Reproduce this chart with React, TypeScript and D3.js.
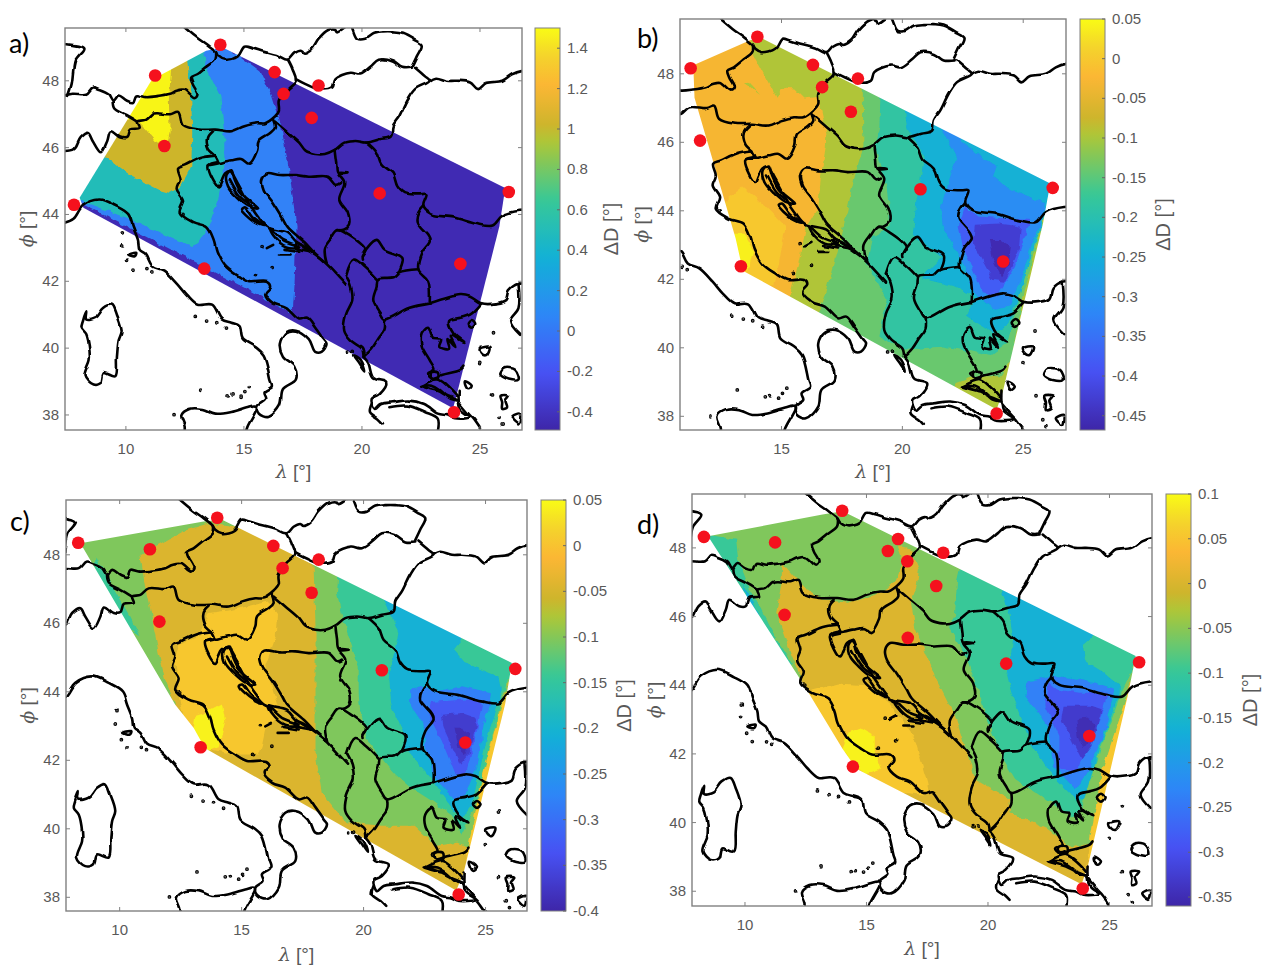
import React from "react";
import * as d3 from "d3";

type Pt = [number, number];

// colour table (fraction of the bar -> colour)
const barStops = [0, 0.143, 0.286, 0.429, 0.571, 0.714, 0.76, 0.857, 0.93, 1];
const barColors = ["#3e26a8", "#4752f4", "#2d87f7", "#12b1d6", "#37c897", "#abc739", "#ceb52c", "#fbb634", "#f4d32c", "#f9fb15"];
const parula = d3.scaleLinear<string>().domain(barStops).range(barColors);

// ---- map outlines, lon/lat ----
const borderNorthAlps: Pt[] = [[7.4, 47.55], [7.78, 47.61], [8.32, 47.61], [8.6, 47.8], [8.87, 47.75], [9.28, 47.61], [9.48, 47.41], [9.69, 47.56], [10.03, 47.41], [10.3, 47.36], [10.44, 47.56], [10.85, 47.51], [11.33, 47.54], [11.87, 47.61], [12.15, 47.7], [12.49, 47.73], [12.9, 47.51], [13.03, 47.61], [12.83, 47.9], [12.76, 48.09], [13.03, 48.19], [13.38, 48.39], [13.79, 48.63], [13.82, 48.85]];
const borderCzechSlovak: Pt[] = [[12.4, 49.65], [12.97, 49.31], [13.44, 49.07], [13.79, 48.87], [13.92, 48.73], [14.2, 48.63], [14.74, 48.73], [15.02, 49.02], [15.36, 48.97], [15.84, 48.87], [16.38, 48.77], [16.86, 48.63], [17.13, 48.82], [17.41, 48.9], [17.54, 48.84], [17.88, 48.97], [18.16, 49.26], [18.57, 49.52], [18.91, 49.55], [18.98, 49.48], [19.39, 49.65], [19.52, 49.65], [19.8, 49.26], [20.14, 49.26], [20.48, 49.41], [20.89, 49.45], [21.3, 49.45], [21.71, 49.41], [22.25, 49.21], [22.53, 49.07], [22.32, 48.73], [22.12, 48.43]];
const borderHungaryNorth: Pt[] = [[22.12, 48.39], [21.71, 48.39], [21.3, 48.58], [20.75, 48.63], [20.41, 48.43], [19.93, 48.19], [19.52, 48.24], [18.84, 48.05], [18.7, 47.8], [18.16, 47.75], [17.61, 47.9], [17.2, 48.05]];
const borderAustriaSouth: Pt[] = [[16.86, 48.63], [17.06, 48.34], [17.2, 48.0], [16.86, 47.75], [16.52, 47.41], [16.52, 47.12], [16.31, 46.93], [15.9, 46.73], [15.56, 46.73], [15.02, 46.64], [14.47, 46.49], [13.79, 46.54], [13.1, 46.54], [12.42, 46.68], [12.21, 47.07], [11.87, 47.0], [11.19, 47.02], [10.85, 46.83], [10.51, 46.78], [10.58, 46.59], [10.17, 46.54], [10.03, 46.3], [9.76, 46.3], [9.35, 46.49], [9.21, 46.2], [8.94, 45.86], [8.59, 46.2], [8.39, 46.44], [8.05, 46.3], [7.78, 45.96], [7.4, 45.9]];
const borderSwissAustria: Pt[] = [[9.48, 47.41], [9.55, 47.17], [10.03, 46.98], [10.51, 46.78]];
const borderRhine: Pt[] = [[7.3, 49.1], [8.2, 48.97], [7.85, 48.6], [7.7, 47.9], [7.55, 47.55]];
const borderSloveniaWest: Pt[] = [[13.65, 46.49], [13.44, 46.3], [13.51, 45.96], [13.79, 45.76], [13.92, 45.57]];
const borderSloveniaCroatia: Pt[] = [[13.51, 45.47], [13.85, 45.52], [14.47, 45.62], [14.88, 45.66], [15.22, 45.52], [15.56, 45.91], [15.63, 46.2], [16.11, 46.44], [16.31, 46.59], [16.24, 46.83]];
const borderHungarySouth: Pt[] = [[16.31, 46.78], [16.79, 46.49], [17.34, 46.15], [17.61, 45.91], [18.02, 45.81], [18.43, 45.81], [18.84, 45.93], [19.25, 46.15], [19.73, 46.2], [20.21, 46.15], [20.75, 46.25], [21.23, 46.34], [21.3, 46.64], [21.57, 46.93], [21.91, 47.41], [22.25, 47.75], [22.87, 48.0], [22.66, 48.14], [22.25, 48.39]];
const borderRomaniaNorth: Pt[] = [[22.87, 48.0], [23.14, 48.09], [23.62, 48.0], [24.03, 48.0], [24.58, 47.95], [24.92, 47.75], [25.26, 47.93], [25.94, 48.0], [26.35, 48.19], [26.76, 48.29], [27.2, 48.3]];
const borderSerbiaWest: Pt[] = [[18.84, 45.93], [18.91, 45.52], [18.98, 45.23], [19.39, 45.23], [18.98, 45.23], [19.25, 44.94], [19.04, 44.45], [19.39, 44.06], [19.45, 43.67], [19.25, 43.55], [18.98, 43.53]];
const borderBosniaNorth: Pt[] = [[19.11, 44.94], [18.91, 44.89], [18.57, 45.13], [17.75, 45.13], [17.2, 45.18], [16.52, 45.18], [15.97, 45.23], [15.77, 45.03], [15.84, 44.74], [16.24, 44.35], [16.66, 43.87], [16.86, 43.62], [17.61, 43.14], [18.0, 42.85], [18.5, 42.55]];
const borderRomaniaWest: Pt[] = [[20.21, 46.15], [20.62, 45.86], [20.82, 45.52], [21.3, 45.23], [21.5, 44.84], [21.78, 44.64], [22.39, 44.6], [22.73, 44.6], [22.6, 44.25], [22.94, 44.01], [23.89, 43.91], [24.85, 43.72], [25.53, 43.67], [25.94, 43.96], [26.69, 44.11], [27.2, 44.1]];
const borderBulgariaWest: Pt[] = [[22.6, 44.25], [22.39, 44.06], [22.32, 43.77], [22.46, 43.62], [22.8, 43.34], [22.87, 43.19], [22.53, 42.85], [22.39, 42.36], [22.8, 42.02], [22.87, 41.34]];
const borderBulgariaSouth: Pt[] = [[22.87, 41.34], [24.17, 41.59], [24.58, 41.54], [25.06, 41.34], [25.67, 41.34], [26.08, 41.44], [26.22, 41.73], [26.63, 41.93], [27.2, 41.9]];
const borderMacedonia: Pt[] = [[22.39, 42.36], [21.57, 42.27], [21.3, 42.12], [20.68, 42.07], [20.62, 41.83], [20.48, 41.44], [20.75, 41.05], [20.96, 40.86], [21.98, 41.2], [22.87, 41.34]];
const borderKosovo: Pt[] = [[20.0, 42.65], [20.0, 42.75], [20.62, 43.24], [20.96, 42.95], [21.71, 42.7], [21.57, 42.27]];
const borderAlbaniaNorth: Pt[] = [[19.32, 42.17], [19.66, 42.65], [20.14, 42.41], [20.62, 42.07]];
const borderAlbaniaWest: Pt[] = [[19.32, 42.17], [19.52, 41.88], [19.59, 41.44], [19.32, 41.0], [19.25, 40.52], [19.52, 40.23], [20.0, 39.98], [20.07, 39.74]];
const borderAlbaniaSouth: Pt[] = [[20.07, 39.74], [20.41, 39.98], [20.68, 40.27], [20.96, 40.57], [20.96, 40.86]];
const borderMontenegro: Pt[] = [[18.5, 42.56], [18.43, 42.99], [18.7, 43.29], [18.98, 43.53], [19.45, 43.38], [20.14, 42.95], [20.0, 42.75]];
const coastDalmatia: Pt[] = [[13.92, 45.57], [13.51, 45.47], [13.65, 45.08], [13.92, 44.84], [14.06, 45.03], [14.2, 45.23], [14.4, 45.3], [14.74, 44.93], [15.15, 44.4], [15.56, 43.96], [15.97, 43.62], [16.86, 43.45], [17.2, 43.2], [17.61, 43.0], [18.22, 42.7], [18.7, 42.38], [19.0, 42.15], [19.32, 41.9]];
const coastItaly: Pt[] = [[13.79, 45.76], [13.17, 45.69], [12.49, 45.47], [12.17, 45.37], [12.28, 45.03], [12.15, 44.74], [12.42, 44.4], [12.28, 44.06], [12.83, 43.77], [13.44, 43.62], [13.72, 43.24], [13.85, 42.9], [14.2, 42.46], [14.74, 42.17], [15.22, 41.98], [15.97, 41.98], [16.11, 41.83], [15.9, 41.63], [16.25, 41.34], [16.79, 41.2], [17.34, 40.86], [17.68, 40.91], [18.02, 40.61], [18.36, 40.27], [18.5, 40.13], [18.29, 39.89], [18.02, 39.89], [17.75, 40.27], [17.2, 40.52], [16.79, 40.47], [16.52, 40.13], [16.65, 39.74], [17.13, 39.45], [17.2, 39.06], [16.65, 38.77], [16.52, 38.28], [16.04, 37.94], [15.63, 38.04], [15.56, 38.28], [15.9, 38.48], [15.83, 38.67], [16.18, 38.86], [16.11, 39.06], [15.84, 39.79], [15.49, 40.03], [14.95, 40.27], [14.81, 40.66], [14.47, 40.76], [14.06, 40.86], [13.65, 41.3], [13.03, 41.3], [12.56, 41.59], [12.15, 41.93], [11.6, 42.32], [11.12, 42.46], [10.85, 42.8], [10.58, 42.95], [10.51, 43.24], [10.3, 43.63], [10.1, 44.01], [9.55, 44.26], [8.87, 44.45], [8.18, 44.26], [7.78, 43.87], [7.4, 43.75]];
const coastSicily: Pt[] = [[12.45, 37.3], [12.49, 37.65], [12.35, 37.99], [12.69, 38.18], [13.24, 38.18], [13.79, 38.04], [14.47, 38.09], [15.15, 38.23], [15.49, 38.28], [15.56, 38.23], [15.15, 37.65], [15.0, 37.3]];
const coastTurkey: Pt[] = [[26.63, 41.93], [26.63, 41.2], [26.28, 40.81], [26.7, 40.4]];
const coastGreeceWest: Pt[] = [[20.07, 39.74], [20.27, 39.55], [20.48, 39.11], [21.03, 38.96], [20.75, 38.62], [20.41, 38.48], [20.55, 38.18], [20.82, 38.33], [21.3, 38.38], [21.98, 38.43], [22.6, 38.33], [23.21, 38.04], [23.62, 37.99], [23.89, 37.9], [24.58, 37.94], [24.17, 38.18], [24.1, 38.72]];
const coastPeloponnese: Pt[] = [[21.16, 38.23], [21.91, 38.28], [22.66, 38.09], [23.21, 37.89], [23.21, 37.5]];
const coastThermaic: Pt[] = [[24.3, 39.45], [24.17, 39.35], [23.42, 39.2], [23.0, 39.11], [22.8, 39.25], [23.07, 39.35], [22.87, 39.64], [22.53, 40.08], [22.53, 40.42], [22.8, 40.61], [23.0, 40.32], [23.35, 40.27], [23.28, 40.03], [23.69, 39.98], [23.62, 40.27], [23.96, 40.03], [23.76, 40.37], [24.3, 40.18], [23.89, 40.42], [23.69, 40.81], [24.17, 40.91], [24.58, 41.0], [25.06, 41.34]];
const coastEuboeaInner: Pt[] = [[22.53, 38.88], [23.21, 39.06], [23.62, 38.87], [24.03, 38.57]];
const coastAttica: Pt[] = [[24.1, 38.38], [24.51, 38.04], [24.71, 37.89], [25.0, 37.6]];
const innerDalmatia: Pt[] = [[14.4, 45.03], [14.81, 44.55], [15.15, 44.35]];
const innerDalmatiaSouth: Pt[] = [[15.97, 42.99], [16.24, 43.09]];
const innerDalmatiaFar: Pt[] = [[16.52, 42.8], [16.93, 42.8]];
const innerDalmatiaMid: Pt[] = [[16.72, 42.97], [17.34, 42.9]];
const kythiraLine: Pt[] = [[20.41, 38.33], [20.34, 38.09], [20.69, 37.89], [20.89, 37.75]];
const openLines = [borderNorthAlps, borderCzechSlovak, borderHungaryNorth, borderAustriaSouth, borderSwissAustria, borderRhine, borderSloveniaWest, borderSloveniaCroatia, borderHungarySouth, borderRomaniaNorth, borderSerbiaWest, borderBosniaNorth, borderRomaniaWest, borderBulgariaWest, borderBulgariaSouth, borderMacedonia, borderKosovo, borderAlbaniaNorth, borderAlbaniaWest, borderAlbaniaSouth, borderMontenegro, coastDalmatia, coastItaly, coastSicily, coastTurkey, coastGreeceWest, coastPeloponnese, coastThermaic, coastEuboeaInner, coastAttica, innerDalmatia, innerDalmatiaSouth, innerDalmatiaFar, innerDalmatiaMid, kythiraLine];

const sardinia: Pt[] = [[8.32, 41.1], [8.18, 40.81], [8.12, 40.61], [8.32, 40.42], [8.46, 39.93], [8.46, 39.64], [8.25, 39.16], [8.59, 38.91], [8.94, 38.96], [9.07, 39.25], [9.55, 39.16], [9.62, 39.74], [9.69, 40.22], [9.82, 40.52], [9.62, 41.0], [9.41, 41.3], [9.07, 41.2], [8.73, 40.91], [8.32, 40.86]];
const krk: Pt[] = [[14.26, 45.18], [14.47, 45.32], [14.6, 45.03], [14.88, 44.64], [15.43, 44.3], [15.56, 44.21], [15.15, 44.27], [14.67, 44.55], [14.33, 44.84]];
const pag: Pt[] = [[14.88, 44.16], [15.43, 43.77], [15.84, 43.65], [15.36, 43.91], [15.02, 44.21]];
const brac: Pt[] = [[16.11, 43.58], [16.65, 43.24], [17.34, 43.04], [16.79, 43.04], [16.24, 43.38]];
const korcula: Pt[] = [[17.2, 43.14], [17.61, 43.04], [17.88, 42.9], [17.47, 42.95], [17.2, 43.0]];
const thasos: Pt[] = [[24.65, 40.84], [24.8, 40.73], [24.65, 40.61], [24.48, 40.73]];
const euboea: Pt[] = [[22.46, 38.87], [23.0, 38.87], [23.35, 38.72], [23.76, 38.48], [24.1, 38.43], [23.62, 38.57], [23.21, 38.72]];
const lemnos: Pt[] = [[24.99, 39.98], [25.4, 40.03], [25.26, 39.79], [25.06, 39.84]];
const skyros: Pt[] = [[24.37, 39.01], [24.65, 38.87], [24.51, 38.77], [24.37, 38.91]];
const chios: Pt[] = [[25.87, 38.57], [26.22, 38.57], [26.08, 38.43], [26.15, 38.23], [25.94, 38.18], [25.94, 38.38]];
const lesbos: Pt[] = [[25.87, 39.25], [26.08, 39.4], [26.49, 39.35], [26.63, 39.06], [26.22, 39.06], [25.87, 39.2]];
const samos: Pt[] = [[26.35, 37.94], [26.69, 38.04], [26.63, 37.75]];
const corfu: Pt[] = [[19.66, 39.79], [19.95, 39.65], [20.14, 39.3], [19.9, 39.55]];
const elba: Pt[] = [[10.1, 42.8], [10.44, 42.85], [10.37, 42.75]];
const ambracia: Pt[] = [[22.95, 39.3], [23.25, 39.3], [23.25, 39.1], [22.95, 39.12]];
const closedLines = [sardinia, krk, pag, brac, korcula, thasos, euboea, lemnos, skyros, chios, lesbos, samos, corfu, elba, ambracia];

const smallIslands: Pt[] = [[9.82, 43.06], [9.89, 43.45], [10.07, 42.63], [10.3, 42.36], [10.89, 42.38], [11.1, 42.28], [12.94, 40.95], [13.42, 40.81], [13.85, 40.76], [14.26, 40.6], [13.17, 38.74], [14.33, 38.57], [14.54, 38.6], [14.88, 38.53], [15.22, 38.82], [15.04, 38.67], [12.04, 38.01], [12.42, 44.0], [15.49, 42.17], [16.24, 42.41], [15.77, 43.04], [19.39, 39.88], [19.59, 39.9], [25.53, 40.49], [24.99, 39.54], [25.53, 38.6], [25.81, 37.9], [25.94, 37.7]];

// ---- stations ----
const stationsCommon: Pt[] = [[14.0, 49.08], [16.3, 48.26], [16.68, 47.61], [18.16, 47.86], [17.87, 46.89], [20.75, 44.63], [26.22, 44.67], [24.17, 42.52], [23.9, 38.08]];
const stationsA: Pt[] = [...stationsCommon, [7.8, 44.29], [11.24, 48.16], [11.63, 46.05], [13.32, 42.38]];
const stationsB: Pt[] = [...stationsCommon, [11.24, 48.16], [11.63, 46.05], [13.32, 42.38]];
const stationsC: Pt[] = [...stationsCommon, [8.3, 48.35], [11.24, 48.16], [11.63, 46.05], [13.32, 42.38]];
const stationsD: Pt[] = [...stationsCommon, [8.31, 48.32], [11.24, 48.16], [11.63, 46.05], [15.88, 47.91], [16.7, 45.38], [14.44, 41.63]];

// ---- contour hulls and bands ----
const hullA: Pt[] = [[8.04, 44.5], [11.1, 48.03], [13.4, 48.9], [14.1, 49.0], [26.07, 44.79], [25.82, 43.64], [24.03, 38.65], [23.86, 38.2], [8.2, 44.2]];
const hullB: Pt[] = [[11.35, 48.25], [13.7, 48.98], [14.2, 49.03], [26.12, 44.8], [25.82, 43.64], [24.16, 38.73], [23.9, 38.2], [13.4, 42.25], [13.1, 43.2], [11.4, 47.3]];
const hullC: Pt[] = [[8.39, 48.34], [13.44, 48.97], [14.2, 49.02], [26.08, 44.84], [25.8, 43.63], [24.1, 38.72], [23.8, 38.2], [13.5, 42.35], [13.03, 42.95], [12.28, 43.62]];
const hullD: Pt[] = [[8.48, 48.34], [13.19, 48.97], [14.02, 49.07], [26.08, 44.85], [25.75, 43.69], [24.1, 38.7], [23.85, 38.2], [14.6, 41.56], [14.02, 42.14], [12.36, 44.08]];

type Band = { v: number; pts: Pt[] };

const bandsA: Band[] = [
  { v: 0.05, pts: [[13.32, 48.93], [14.17, 48.98], [14.85, 48.73], [15.7, 48.28], [16.2, 47.53], [16.55, 46.73], [16.89, 45.44], [17.23, 43.64], [17.14, 41.84], [17.06, 41.04], [13.32, 42.44], [8.13, 44.32], [7.5, 45], [10, 49.5]] },
  { v: 0.5, pts: [[13.32, 48.88], [13.4, 48.38], [14.0, 47.53], [14.17, 46.43], [14.17, 45.44], [13.91, 44.44], [13.49, 43.64], [13.06, 43.14], [12.81, 43.06], [11.96, 43.29], [10.26, 43.84], [8.38, 44.34], [7.5, 44.6], [8, 47], [12, 49.3], [13.3, 49.3]] },
  { v: 1.02, pts: [[12.6, 48.58], [12.77, 47.43], [12.81, 46.43], [12.77, 45.44], [12.55, 45.14], [12.3, 44.84], [11.87, 44.64], [11.36, 44.74], [10.26, 45.14], [9.15, 45.73], [8, 46], [10, 49], [12.6, 49]] },
  { v: 1.48, pts: [[11.92, 48.38], [11.82, 47.43], [11.85, 46.43], [11.7, 45.98], [11.28, 46.18], [10.51, 46.83], [10.09, 46.83], [9, 47.5], [10, 49], [11.92, 49]] },
];

const bandsB: Band[] = [
  { v: -0.095, pts: [[13.7, 48.98], [13.87, 48.5], [14.78, 47.33], [15.1, 47.6], [15.53, 47.57], [15.95, 47.28], [16.53, 47.33], [16.86, 46.26], [16.83, 45.87], [16.61, 44.9], [16.53, 44.12], [16.03, 43.54], [15.7, 42.47], [15.37, 41.6], [15, 41], [24, 37.5], [30, 41], [30, 50], [13.7, 50]] },
  { v: -0.095, pts: [[13.46, 47.72], [13.7, 47.7], [14.12, 47.38]] },
  { v: -0.14, pts: [[18.35, 48.2], [18.39, 45.87], [17.99, 44.9], [17.52, 43.35], [16.86, 41.6], [16.53, 41.0], [22, 38.7], [22.25, 38.97], [23.0, 39.17], [24.08, 39.17], [24.49, 39.65], [25.07, 41.69], [25.99, 44.12], [26.32, 45.0], [26.5, 46], [18.35, 50]] },
  { v: -0.185, pts: [[19.1, 47.52], [19.05, 46.45], [18.85, 45.87], [19.35, 44.71], [19.51, 43.54], [18.77, 43.25], [18.52, 42.47], [19.35, 41.4], [19.05, 40.33], [20.18, 39.94], [21.67, 40.04], [23.66, 39.8], [24.33, 40.14], [24.91, 41.69], [25.49, 43.15], [25.99, 44.12], [26.19, 44.85], [26.4, 45.8], [19.1, 50]] },
  { v: -0.245, pts: [[20.09, 46.99], [20.21, 46.36], [20.92, 45.58], [20.59, 44.32], [20.43, 43.3], [21.67, 42.66], [20.76, 42.03], [22.17, 41.79], [23.0, 41.5], [22.67, 40.92], [23.75, 40.43], [24.33, 40.62], [24.91, 41.69], [25.41, 42.86], [25.9, 43.93], [26.15, 44.7], [26.3, 45.5], [20.09, 48]] },
  { v: -0.31, pts: [[21.5, 46.55], [22.25, 45.58], [21.6, 44.12], [21.67, 43.54], [22.5, 42.47], [23.0, 41.6], [23.83, 41.11], [24.41, 41.2], [24.99, 42.18], [25.41, 43.15], [25.82, 43.83], [25.9, 44.22], [24.49, 44.61], [23.75, 45.0], [23.9, 45.3], [22.5, 45.97], [21.9, 47]] },
  { v: -0.38, pts: [[22.58, 44.12], [22.33, 43.54], [22.5, 42.96], [23.33, 41.6], [23.91, 41.5], [24.66, 42.37], [25.16, 43.44], [25.32, 43.73], [23.16, 43.83]] },
  { v: -0.427, pts: [[23.0, 43.59], [22.92, 43.05], [23.75, 41.98], [24.25, 41.93], [24.82, 42.86], [24.9, 43.54], [24.0, 43.63]] },
  { v: -0.458, pts: [[23.58, 43.15], [23.75, 42.57], [24.08, 42.08], [24.41, 42.47], [24.49, 42.96], [24.08, 43.15]] },
  { v: 0.0, pts: [[12.71, 44.32], [13.37, 44.71], [14.37, 44.12], [15.17, 43.54], [14.9, 42.5], [14.7, 41.8], [13, 41.8], [12, 44]] },
  { v: 0.04, pts: [[13.0, 43.3], [13.5, 43.3], [13.87, 42.85], [13.7, 42.37], [13.4, 42.2], [12.9, 42.3]] },
];

const bandsC: Band[] = [
  { v: -0.103, pts: [[8, 49], [14, 49.5], [18, 48.5], [17.95, 47.67], [17.4, 47.95], [16.52, 48.34], [15.02, 48.77], [13.65, 48.92], [12.56, 48.68], [10.85, 48.0], [11.05, 47.02], [11.26, 46.39], [11.6, 45.13], [11.87, 44.35], [12.28, 43.62], [11, 44], [8, 47]] },
  { v: -0.143, pts: [[9.0, 47.95], [9.55, 47.27], [10.44, 46.2], [10.85, 45.62], [9, 46.5]] },
  { v: -0.103, pts: [[17.95, 47.67], [18.03, 45.92], [18.03, 44.75], [18.03, 42.23], [18.28, 41.06], [19.27, 40.19], [20.75, 40.09], [22.06, 40.09], [22.97, 39.5], [23.87, 39.6], [24.29, 39.46], [24.86, 41.45], [25.68, 43.69], [26.1, 44.56], [26.5, 45.5], [18, 48.5]] },
  { v: -0.143, pts: [[18.98, 47.56], [18.91, 46.88], [19.18, 46.05], [19.8, 44.74], [19.8, 43.96], [19.86, 43.43], [20.14, 42.75], [20.07, 42.65], [20.68, 42.12], [20.89, 41.93], [21.3, 41.59], [21.84, 41.25], [22.8, 40.81], [23.62, 40.37], [24.03, 39.84], [24.37, 40.32], [24.58, 40.71], [25.26, 42.65], [25.6, 43.63], [26.08, 44.74], [26.5, 45.5], [19, 49]] },
  { v: -0.206, pts: [[20.68, 46.83], [21.09, 46.3], [21.43, 45.71], [21.16, 44.84], [21.02, 44.35], [21.09, 43.63], [21.71, 42.7], [21.57, 42.27], [21.84, 42.27], [22.87, 41.39], [23.62, 40.61], [24.03, 40.27], [24.44, 40.71], [25.06, 42.65], [25.53, 43.63], [25.67, 43.87], [25.53, 44.45], [24.17, 44.84], [23.69, 45.23], [24.03, 45.52], [24, 46.5], [21, 47.5]] },
  { v: -0.28, pts: [[21.91, 44.06], [22.32, 44.16], [22.94, 44.01], [24.03, 44.16], [25.26, 43.96], [25.19, 43.63], [24.92, 43.04], [24.64, 41.88], [24.17, 41.0], [23.76, 40.81], [22.87, 41.54], [22.8, 41.97], [22.53, 42.36], [22.46, 43.04], [21.91, 43.62]] },
  { v: -0.328, pts: [[22.75, 43.7], [22.66, 43.33], [23.21, 42.56], [23.76, 41.59], [24.17, 41.54], [24.64, 42.85], [24.85, 43.63], [24.6, 43.8]] },
  { v: -0.368, pts: [[23.21, 43.33], [23.28, 42.95], [23.96, 41.88], [24.3, 42.17], [24.64, 43.04], [24.58, 43.24], [24.03, 43.38]] },
  { v: -0.39, pts: [[23.73, 42.95], [23.89, 42.36], [24.17, 42.17], [24.37, 42.75], [24.03, 42.95]] },
  { v: 0.005, pts: [[13.65, 46.3], [14.6, 46.39], [16.11, 46.64], [16.45, 46.3], [16.4, 45.6], [15.97, 44.75], [16.47, 43.59], [16.52, 43.29], [15.97, 42.9], [15.83, 42.41], [15.7, 42.17], [14.74, 42.17], [13.79, 42.31], [12.9, 42.6], [12.5, 43.6], [12.4, 44.0], [12.35, 44.5], [12.25, 45.0], [12.45, 45.35], [13.3, 45.65], [13.5, 46.0]] },
  { v: 0.043, pts: [[13.1, 43.29], [13.51, 43.38], [14.2, 43.63], [14.33, 43.14], [14.06, 42.41], [13.65, 42.31], [13.3, 42.41], [13.03, 42.9]] },
  { v: 0.005, pts: [[24.1, 38.72], [24.29, 39.46], [24.86, 41.45], [25.68, 43.69], [25.85, 43.69], [24.3, 38.6]] },
];

const bandsD: Band[] = [
  { v: -0.056, pts: [[8, 49], [18, 49.3], [18, 48], [16.83, 47.95], [16.25, 48.05], [16.5, 47.56], [16.17, 46.98], [15.34, 46.6], [14.18, 46.4], [13.19, 46.5], [12.36, 46.89], [11.54, 47.56], [11.5, 46.98], [11.29, 46.11], [11.87, 44.95], [12.36, 44.17], [11, 44], [8, 47]] },
  { v: -0.098, pts: [[8.4, 48.4], [9.64, 48.24], [9.72, 47.66], [10.21, 46.79], [10.9, 45.9], [11.3, 45.3], [12, 44.6], [9, 46]] },
  { v: -0.162, pts: [[9.9, 47.0], [10.6, 46.0], [10.2, 46.0]] },
  { v: -0.056, pts: [[16.83, 47.95], [17.16, 47.37], [17.07, 46.89], [16.83, 46.4], [17, 45.72], [17.82, 44.27], [18.64, 43.11], [19.31, 41.65], [19.47, 41.27], [20.96, 40.64], [20.88, 40.3], [22.45, 39.81], [23.44, 39.28], [24.18, 39.38], [24.68, 41.46], [25.75, 43.78], [26.1, 44.7], [26.5, 45.5], [18, 49]] },
  { v: -0.098, pts: [[18.89, 47.56], [18.73, 47.08], [18.64, 46.01], [18.4, 45.72], [19.14, 44.75], [19.64, 43.78], [19.88, 43.2], [20.13, 42.72], [20.63, 41.85], [21.12, 41.27], [22.78, 40.49], [23.44, 40.15], [23.77, 40.3], [24.68, 42.23], [25.5, 43.78], [26.12, 44.7], [26.5, 45.5], [19, 49]] },
  { v: -0.162, pts: [[20.55, 46.69], [20.88, 46.11], [21.04, 45.33], [20.79, 44.27], [20.96, 43.78], [21.54, 42.72], [21.7, 42.33], [22.78, 41.27], [23.6, 40.68], [23.93, 40.68], [24.68, 42.33], [25.42, 43.78], [25.42, 43.98], [24.7, 44.4], [24.0, 44.7], [23.9, 45.2], [24.4, 45.5], [25, 46.5], [21, 47.5]] },
  { v: -0.236, pts: [[21.62, 44.08], [21.54, 43.69], [22.45, 42.82], [22.69, 41.65], [23.6, 40.97], [24.1, 41.46], [24.84, 42.72], [25.17, 43.78], [25.1, 43.93], [23.93, 44.17], [22.78, 44.27]] },
  { v: -0.286, pts: [[22.45, 44.08], [22.36, 43.4], [22.94, 42.52], [22.94, 41.56], [23.6, 41.46], [24.6, 43.01], [24.93, 43.78], [23.77, 43.78], [22.78, 43.88]] },
  { v: -0.328, pts: [[23.11, 43.4], [23.02, 43.01], [23.85, 41.85], [24.26, 42.23], [24.68, 43.3], [24.26, 43.4]] },
  { v: -0.35, pts: [[23.6, 43.01], [23.69, 42.52], [23.93, 42.14], [24.26, 42.43], [24.43, 42.86], [24.1, 43.06]] },
  { v: 0.054, pts: [[12.5, 43.8], [13.85, 44.05], [15.0, 44.0], [16.0, 43.45], [16.99, 42.43], [17.49, 41.17], [17.6, 40.8], [14, 41], [12, 43.5]] },
  { v: 0.093, pts: [[14.26, 42.62], [14.76, 42.77], [15.34, 42.53], [15.34, 42.04], [15.59, 41.56], [15.0, 41.41], [14.5, 41.65], [14.0, 42.14]] },
  { v: 0.054, pts: [[24.1, 38.7], [24.18, 39.38], [24.68, 41.46], [25.75, 43.78], [25.85, 43.7], [24.3, 38.6]] },
];

// ---- axis ticks ----
const lonTicksA = [10, 15, 20, 25];
const lonTicksB = [15, 20, 25];
const latTicks = [38, 40, 42, 44, 46, 48];
const barTicksA = [1.4, 1.2, 1, 0.8, 0.6, 0.4, 0.2, 0, -0.2, -0.4];
const barTicksB = [0.05, 0, -0.05, -0.1, -0.15, -0.2, -0.25, -0.3, -0.35, -0.4, -0.45];
const barTicksC = [0.05, 0, -0.05, -0.1, -0.15, -0.2, -0.25, -0.3, -0.35, -0.4];
const barTicksD = [0.1, 0.05, 0, -0.05, -0.1, -0.15, -0.2, -0.25, -0.3, -0.35];

const GREY = "#595959";
const AXIS = "#808080";
const SANS = "'Liberation Sans', Arial, sans-serif";

const Panel = ({ id, letter, letterPos, box, xlim, ylim, bar, range, baseV, hull, bands, stations, lonTicks, barTicks, ylabelX, xlabelY, dlabelX }: any) => {
  const x = d3.scaleLinear().domain(xlim).range([box[0], box[2]]);
  const y = d3.scaleLinear().domain(ylim).range([box[3], box[1]]);
  const cy = d3.scaleLinear().domain(range).range([box[3], box[1]]);
  const color = (v: number) => parula((v - range[0]) / (range[1] - range[0]));
  const poly = d3.line<Pt>().x((d) => x(d[0])).y((d) => y(d[1])).curve(d3.curveLinearClosed);
  const smooth = d3.line<Pt>().x((d) => x(d[0])).y((d) => y(d[1])).curve(d3.curveCatmullRom.alpha(0.5));
  const smoothClosed = d3.line<Pt>().x((d) => x(d[0])).y((d) => y(d[1])).curve(d3.curveCatmullRomClosed.alpha(0.5));
  const midY = (box[1] + box[3]) / 2;
  const gradStops = d3.range(0, 1.001, 0.02);

  return (
    <g>
      <defs>
        <clipPath id={`frame-${id}`}>
          <rect x={box[0]} y={box[1]} width={box[2] - box[0]} height={box[3] - box[1]} />
        </clipPath>
        <clipPath id={`hull-${id}`}>
          <path d={poly(hull) as string} />
        </clipPath>
        <linearGradient id={`grad-${id}`} x1="0" y1="1" x2="0" y2="0">
          {gradStops.map((t) => (
            <stop key={t} offset={t} stopColor={parula(t)} />
          ))}
        </linearGradient>
      </defs>

      <rect x={box[0]} y={box[1]} width={box[2] - box[0]} height={box[3] - box[1]} fill="#fff" />
      <g clipPath={`url(#hull-${id})`}>
        <g filter="url(#rough-bands)">
          <rect x={box[0]} y={box[1]} width={box[2] - box[0]} height={box[3] - box[1]} fill={color(baseV)} />
          {bands.map((b: Band, i: number) => (
            <path key={i} d={poly(b.pts) as string} fill={color(b.v)} />
          ))}
        </g>
      </g>

      <g clipPath={`url(#frame-${id})`}>
        <g filter="url(#rough-lines)" fill="none" stroke="#000" strokeWidth={2.6} strokeLinejoin="round" strokeLinecap="round">
          {openLines.map((l, i) => (
            <path key={i} d={smooth(l) as string} />
          ))}
          {closedLines.map((l, i) => (
            <path key={i} d={smoothClosed(l) as string} />
          ))}
          {smallIslands.map((p, i) => (
            <circle key={i} cx={x(p[0])} cy={y(p[1])} r={0.6} fill="#000" />
          ))}
        </g>
      </g>

      {stations.map((p: Pt, i: number) => (
        <circle key={i} cx={x(p[0])} cy={y(p[1])} r={6.3} fill="#f5111d" />
      ))}

      <rect x={box[0]} y={box[1]} width={box[2] - box[0]} height={box[3] - box[1]} fill="none" stroke={AXIS} strokeWidth={1.4} />
      {lonTicks.map((t: number) => (
        <g key={t}>
          <line x1={x(t)} x2={x(t)} y1={box[3]} y2={box[3] - 4} stroke={AXIS} />
          <line x1={x(t)} x2={x(t)} y1={box[1]} y2={box[1] + 4} stroke={AXIS} />
          <text x={x(t)} y={box[3] + 24} textAnchor="middle" fontFamily={SANS} fontSize={15} fill={GREY}>{t}</text>
        </g>
      ))}
      {latTicks.map((t) => (
        <g key={t}>
          <line x1={box[0]} x2={box[0] + 4} y1={y(t)} y2={y(t)} stroke={AXIS} />
          <line x1={box[2]} x2={box[2] - 4} y1={y(t)} y2={y(t)} stroke={AXIS} />
          <text x={box[0] - 6} y={y(t) + 5} textAnchor="end" fontFamily={SANS} fontSize={15} fill={GREY}>{t}</text>
        </g>
      ))}
      <text x={(box[0] + box[2]) / 2} y={xlabelY} textAnchor="middle" fontFamily={SANS} fontSize={19} fill={GREY}>
        <tspan fontFamily="'DejaVu Serif', serif" fontStyle="italic">λ</tspan> [°]
      </text>
      <text transform={`translate(${ylabelX},${midY}) rotate(-90)`} textAnchor="middle" fontFamily={SANS} fontSize={19} fill={GREY}>
        <tspan fontFamily="'DejaVu Serif', serif" fontStyle="italic">ϕ</tspan> [°]
      </text>

      <rect x={bar[0]} y={box[1]} width={bar[1] - bar[0]} height={box[3] - box[1]} fill={`url(#grad-${id})`} stroke={AXIS} strokeWidth={1} />
      {barTicks.map((t: number) => (
        <g key={t}>
          <line x1={bar[1] - 3} x2={bar[1]} y1={cy(t)} y2={cy(t)} stroke="#666" />
          <text x={bar[1] + 7} y={cy(t) + 5} fontFamily={SANS} fontSize={15} fill={GREY}>{t}</text>
        </g>
      ))}
      <text transform={`translate(${dlabelX},${midY}) rotate(-90)`} textAnchor="middle" fontFamily={SANS} fontSize={20} fill={GREY}>ΔD [°]</text>

      <text x={letterPos[0]} y={letterPos[1]} fontFamily="Lato, 'Open Sans', sans-serif" fontSize={27} fill="#000">{letter}</text>
    </g>
  );
};

export default function App() {
  return (
    <svg width={1262} height={965} style={{ position: "absolute", left: 0, top: 0, background: "#fff" }}>
      <defs>
        {/* the source map is a hi-res coastline: a small displacement gives the lines their wobble */}
        <filter id="rough-lines" filterUnits="userSpaceOnUse" x="0" y="0" width="1262" height="965">
          <feTurbulence type="fractalNoise" baseFrequency="0.07" numOctaves="1" seed="4" result="n" />
          <feDisplacementMap in="SourceGraphic" in2="n" scale="4.5" xChannelSelector="R" yChannelSelector="G" />
          <feGaussianBlur stdDeviation="0.4" />
        </filter>
        <filter id="rough-bands" filterUnits="userSpaceOnUse" x="0" y="0" width="1262" height="965">
          <feTurbulence type="fractalNoise" baseFrequency="0.16" numOctaves="1" seed="9" result="n" />
          <feDisplacementMap in="SourceGraphic" in2="n" scale="6" xChannelSelector="R" yChannelSelector="G" />
        </filter>
      </defs>
      <Panel id="a" letter="a)" letterPos={[9, 53]} box={[65, 28, 522, 430]} xlim={[7.42, 26.78]} ylim={[37.55, 49.58]} bar={[535, 560]} range={[-0.49, 1.5]} baseV={-0.45} hull={hullA} bands={bandsA} stations={stationsA} lonTicks={lonTicksA} barTicks={barTicksA} ylabelX={33} xlabelY={478} dlabelX={618} />
      <Panel id="b" letter="b)" letterPos={[637, 48]} box={[680, 19, 1066, 430]} xlim={[10.8, 26.77]} ylim={[37.6, 49.6]} bar={[1080, 1105]} range={[-0.468, 0.05]} baseV={-0.03} hull={hullB} bands={bandsB} stations={stationsB} lonTicks={lonTicksB} barTicks={barTicksB} ylabelX={648} xlabelY={478} dlabelX={1170} />
      <Panel id="c" letter="c)" letterPos={[10, 531]} box={[66, 500, 527, 911]} xlim={[7.8, 26.7]} ylim={[37.6, 49.6]} bar={[541, 566]} range={[-0.4, 0.05]} baseV={-0.045} hull={hullC} bands={bandsC} stations={stationsC} lonTicks={lonTicksA} barTicks={barTicksC} ylabelX={34} xlabelY={961} dlabelX={631} />
      <Panel id="d" letter="d)" letterPos={[637, 534]} box={[692, 494, 1152, 906]} xlim={[7.82, 26.75]} ylim={[37.57, 49.57]} bar={[1166, 1191]} range={[-0.36, 0.1]} baseV={0.003} hull={hullD} bands={bandsD} stations={stationsD} lonTicks={lonTicksA} barTicks={barTicksD} ylabelX={661} xlabelY={955} dlabelX={1257} />
    </svg>
  );
}
